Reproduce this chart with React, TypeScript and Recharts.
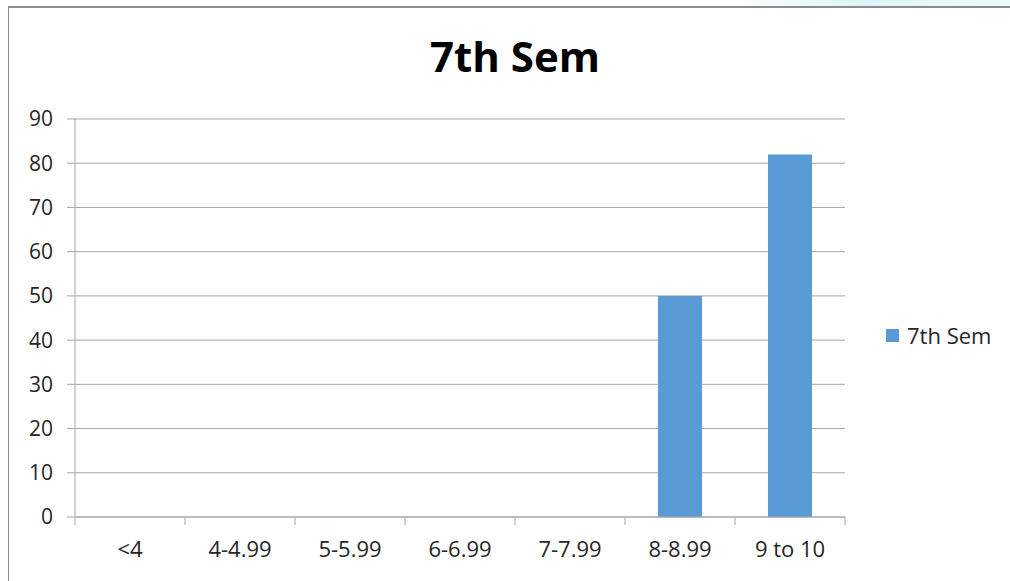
import { BarChart, Bar, XAxis, YAxis, CartesianGrid } from 'recharts';

const CATEGORIES = ['<4', '4-4.99', '5-5.99', '6-6.99', '7-7.99', '8-8.99', '9 to 10'];
const SEM7 = [0, 0, 0, 0, 0, 50, 82];
const Y_TICKS = [0, 10, 20, 30, 40, 50, 60, 70, 80, 90];

const data = CATEGORIES.map((grade, i) => ({ grade, sem7: SEM7[i] }));

const W = 1010;
const H = 581;
const MARGIN = { top: 119, right: 165, left: 0, bottom: 0 };
const Y_WIDTH = 75;
const X_HEIGHT = 64;
const PLOT_W = W - MARGIN.left - MARGIN.right - Y_WIDTH;
const HALF_BAND = PLOT_W / CATEGORIES.length / 2;

const FONT = '"Open Sans", "Liberation Sans", sans-serif';
const TEXT = '#262626';
const GRID = '#a6a6a6';
const BLUE = '#5b9bd5';

const XTick = (props: any) => {
  const { x, y, payload, index } = props;
  const last = index === CATEGORIES.length - 1;
  return (
    <g>
      <line x1={x - HALF_BAND} y1={y} x2={x - HALF_BAND} y2={y + 8} stroke={GRID} />
      {last && <line x1={x + HALF_BAND} y1={y} x2={x + HALF_BAND} y2={y + 8} stroke={GRID} />}
      <text x={x} y={y + 40} textAnchor="middle" fontSize={22} fontFamily={FONT} fill={TEXT}>
        {payload.value}
      </text>
    </g>
  );
};

export default function App() {
  return (
    <div style={{ position: 'absolute', left: 0, top: 0, width: W, height: H, background: '#fff', overflow: 'hidden' }}>
      <div style={{ position: 'absolute', left: 0, top: 0, width: W, height: 6, background: 'linear-gradient(to right, #fff 72%, #dff5fa 85%, #eefafd 100%)' }} />
      <div style={{ position: 'absolute', left: 8, top: 6, width: W + 20, height: H, borderTop: '2px solid #8c8c8c', borderLeft: '1px solid #8c8c8c' }} />
      <div style={{ position: 'absolute', left: 0, top: 26, width: W + 20, textAlign: 'center', fontFamily: FONT, fontWeight: 700, fontSize: 42, color: '#000', lineHeight: '60px' }}>
        7th Sem
      </div>
      <div style={{ position: 'absolute', left: 0, top: 0 }}>
        <BarChart width={W} height={H} data={data} margin={MARGIN} barCategoryGap="30%">
          <CartesianGrid vertical={false} stroke={GRID} />
          <XAxis
            dataKey="grade"
            height={X_HEIGHT}
            stroke={GRID}
            tickLine={false}
            tickSize={0}
            tickMargin={0}
            interval={0}
            tick={<XTick />}
          />
          <YAxis
            width={Y_WIDTH}
            domain={[0, 90]}
            ticks={Y_TICKS}
            interval={0}
            stroke={GRID}
            tickSize={8}
            tickMargin={14}
            tick={{ fill: TEXT, fontSize: 21, fontFamily: FONT }}
          />
          <Bar dataKey="sem7" name="7th Sem" fill={BLUE} isAnimationActive={false} />
        </BarChart>
      </div>
      <div style={{ position: 'absolute', left: 886, top: 320, display: 'flex', alignItems: 'center', fontFamily: FONT, fontSize: 22, color: TEXT }}>
        <span style={{ width: 13, height: 13, background: BLUE, display: 'inline-block', marginRight: 8 }} />
        <span>7th Sem</span>
      </div>
    </div>
  );
}
